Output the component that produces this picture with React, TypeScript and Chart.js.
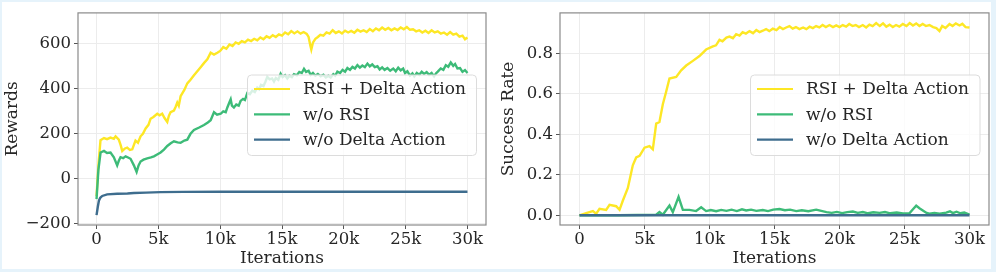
import React, { useEffect, useRef } from "react";
import { Chart, registerables } from "chart.js";

Chart.register(...registerables);

// ---------------- DATA ----------------
const seriesNames = ["RSI + Delta Action", "w/o RSI", "w/o Delta Action"];
const seriesColors = ["#fde725", "#3dbb78", "#3e6d8e"];

const xTicks = [0, 5000, 10000, 15000, 20000, 25000, 30000];
const rewardTicks = [-200, 0, 200, 400, 600];
const successTicks = [0, 0.2, 0.4, 0.6, 0.8];

const rewardFull: [number, number][] = [
  [0, -76], [150, 60], [320, 172], [600, 181], [850, 176], [1130, 183], [1400, 178], [1540, 189],
  [1800, 174], [1950, 150], [2080, 124], [2300, 135], [2480, 139], [2700, 128], [2890, 131],
  [3150, 170], [3350, 160], [3560, 189], [3750, 200], [3970, 224], [4200, 240], [4370, 267],
  [4600, 275], [4910, 289], [5100, 282], [5310, 289], [5500, 270], [5720, 253], [5850, 280],
  [5990, 296], [6260, 303], [6400, 320], [6530, 339], [6650, 325], [6800, 367], [7100, 395],
  [7340, 424], [7600, 440], [7880, 460], [8150, 478], [8420, 496], [8700, 515], [8960, 531],
  [9230, 560], [9500, 552], [9770, 560],
  [10000, 568], [10250, 585], [10500, 578], [10750, 597], [11000, 590], [11250, 606], [11500, 600],
  [11750, 612], [12000, 606], [12250, 618], [12500, 612], [12750, 622], [13000, 615], [13250, 628],
  [13500, 620], [13750, 633], [14000, 626], [14250, 638], [14500, 630], [14750, 642], [15000, 636],
  [15250, 650], [15500, 642], [15750, 656], [16000, 646], [16250, 655], [16500, 645], [16750, 652],
  [17000, 644], [17150, 630], [17300, 590], [17370, 574], [17500, 605], [17700, 622], [17900, 630],
  [18100, 640], [18350, 636], [18600, 650], [18850, 645], [19100, 660], [19350, 648], [19600, 655],
  [19850, 646], [20100, 658], [20350, 650], [20600, 657], [20850, 649], [21100, 662], [21350, 654],
  [21600, 660], [21850, 652], [22100, 665], [22350, 656], [22600, 668], [22850, 660], [23100, 672],
  [23350, 662], [23600, 670], [23850, 660], [24100, 668], [24350, 661], [24600, 672], [24850, 664],
  [25100, 674], [25350, 662], [25600, 664], [25850, 655], [26100, 660], [26350, 650], [26600, 658],
  [26850, 648], [27100, 660], [27350, 650], [27600, 655], [27850, 645], [28100, 650], [28350, 640],
  [28600, 652], [28850, 640], [29100, 645], [29350, 632], [29600, 636], [29800, 620], [30000, 628],
];

const rewardNoRSI: [number, number][] = [
  [0, -90], [150, 40], [324, 117], [600, 124], [850, 115], [1130, 117], [1400, 96], [1670, 60],
  [1800, 80], [1940, 96], [2150, 92], [2350, 100], [2550, 95], [2750, 89], [3020, 60], [3240, 31],
  [3400, 60], [3560, 77], [3800, 85], [4100, 91], [4400, 95], [4640, 100], [4900, 108], [5180, 117],
  [5450, 130], [5720, 146], [6000, 158], [6260, 167], [6550, 162], [6800, 160], [7100, 170],
  [7340, 174], [7600, 200], [7880, 217], [8300, 228], [8690, 239], [9000, 250], [9230, 260],
  [9500, 296], [9750, 285],
  [10040, 289], [10250, 300], [10450, 296], [10580, 317], [10750, 340], [10850, 353], [10950, 325],
  [11110, 317], [11300, 330], [11500, 325], [11650, 346], [11850, 355], [12000, 350], [12190, 381],
  [12400, 376], [12600, 392], [12800, 385], [13000, 405], [13150, 398], [13300, 417], [13500, 412],
  [13650, 430], [13810, 453], [14000, 442], [14200, 446], [14350, 432], [14500, 448], [14700, 440],
  [14890, 467], [15050, 452], [15250, 460], [15430, 446], [15600, 458], [15800, 452], [15970, 465],
  [16200, 460], [16400, 475], [16600, 470], [16780, 489], [16950, 475], [17150, 480], [17320, 462],
  [17500, 470], [17700, 458], [17900, 466], [18130, 455], [18350, 462], [18550, 450], [18750, 458],
  [18940, 450], [19150, 465], [19300, 458], [19480, 476], [19700, 470], [19900, 484], [20100, 476],
  [20290, 492], [20500, 484], [20700, 497], [20900, 490], [21100, 505], [21300, 494], [21500, 503],
  [21700, 496], [21910, 512], [22100, 500], [22300, 508], [22500, 496], [22720, 500], [22900, 486],
  [23100, 495], [23300, 484], [23530, 492], [23750, 480], [24000, 490], [24200, 478], [24400, 494],
  [24600, 482], [24800, 490], [24950, 470], [25140, 478], [25350, 458], [25550, 468], [25700, 455],
  [25900, 470], [26100, 462], [26300, 476], [26490, 466], [26700, 474], [26900, 462], [27100, 470],
  [27300, 455], [27450, 468], [27600, 476], [27840, 490], [28050, 484], [28250, 505], [28450, 498],
  [28650, 517], [28850, 502], [29000, 510], [29190, 490], [29400, 492], [29600, 475], [29800, 483],
  [30000, 470],
];

const rewardNoDelta: [number, number][] = [
  [0, -161], [100, -125], [190, -97], [300, -84], [460, -76], [860, -69], [1670, -66], [2500, -65],
  [3020, -63], [4000, -61], [5180, -59], [7000, -58], [10000, -57], [15000, -57], [20000, -57],
  [25000, -57], [30000, -57],
];

const successFull: [number, number][] = [
  [0, 0], [510, 0.011], [1030, 0.021], [1280, 0.008], [1540, 0.032], [2050, 0.027], [2310, 0.052],
  [2820, 0.045], [3080, 0.027], [3330, 0.072], [3720, 0.135], [4100, 0.247], [4360, 0.286],
  [4620, 0.294], [5000, 0.334], [5380, 0.342], [5640, 0.326], [5900, 0.453], [6150, 0.461],
  [6410, 0.549], [6670, 0.612], [6920, 0.676], [7440, 0.684], [7820, 0.716], [8210, 0.74],
  [8720, 0.763], [9230, 0.787], [9740, 0.819],
  [10260, 0.835], [10500, 0.84], [10770, 0.867], [11000, 0.86], [11300, 0.878], [11540, 0.883],
  [11800, 0.875], [12050, 0.895], [12310, 0.888], [12550, 0.905], [12800, 0.898], [13080, 0.91],
  [13350, 0.9], [13600, 0.915], [13850, 0.905], [14100, 0.912], [14350, 0.92], [14600, 0.91],
  [14870, 0.922], [15150, 0.915], [15400, 0.93], [15650, 0.92], [15900, 0.928], [16150, 0.935],
  [16400, 0.922], [16650, 0.93], [16920, 0.92], [17200, 0.928], [17450, 0.92], [17700, 0.932],
  [17950, 0.925], [18200, 0.935], [18450, 0.928], [18700, 0.94], [18950, 0.93], [19230, 0.94],
  [19500, 0.93], [19750, 0.938], [20000, 0.93], [20250, 0.94], [20510, 0.932], [20750, 0.945],
  [21000, 0.935], [21250, 0.94], [21500, 0.93], [21790, 0.94], [22050, 0.928], [22300, 0.942],
  [22550, 0.935], [22820, 0.95], [23100, 0.935], [23350, 0.948], [23600, 0.932], [23850, 0.942],
  [24100, 0.93], [24350, 0.94], [24600, 0.932], [24870, 0.945], [25150, 0.935], [25400, 0.95],
  [25650, 0.938], [25900, 0.948], [26150, 0.935], [26400, 0.945], [26650, 0.935], [26920, 0.94],
  [27200, 0.93], [27450, 0.925], [27690, 0.91], [27900, 0.935], [28150, 0.925], [28460, 0.945],
  [28700, 0.935], [28950, 0.948], [29230, 0.938], [29450, 0.946], [29700, 0.93], [30000, 0.928],
];

const successNoRSI: [number, number][] = [
  [0, 0], [3000, 0], [5900, 0.003], [6150, 0.016], [6410, 0.003], [6920, 0.048], [7180, 0.016],
  [7620, 0.091], [7950, 0.027], [8460, 0.027], [8970, 0.021], [9360, 0.04],
  [9740, 0.021], [10100, 0.026], [10510, 0.02], [10900, 0.027], [11300, 0.022], [11700, 0.028],
  [12100, 0.021], [12500, 0.03], [12820, 0.024], [13200, 0.028], [13600, 0.022], [14100, 0.026],
  [14500, 0.021], [14900, 0.028], [15380, 0.031], [15800, 0.025], [16200, 0.028], [16670, 0.021],
  [17100, 0.025], [17600, 0.02], [18210, 0.028], [18600, 0.022], [19000, 0.016], [19400, 0.012],
  [19800, 0.017], [20200, 0.011], [20600, 0.016], [21030, 0.019], [21400, 0.012], [21800, 0.016],
  [22200, 0.01], [22600, 0.015], [23080, 0.012], [23500, 0.016], [23900, 0.01], [24400, 0.014],
  [24870, 0.009], [25380, 0.01], [25650, 0.03], [25900, 0.048], [26150, 0.035], [26410, 0.024],
  [26700, 0.012], [26920, 0.008], [27300, 0.012], [27700, 0.008], [28210, 0.013], [28500, 0.02],
  [28720, 0.011], [29000, 0.018], [29300, 0.01], [29600, 0.014], [30000, 0.004],
];

const successNoDelta: [number, number][] = [
  [0, 0], [10000, 0], [20000, 0], [30000, 0],
];

// ---------------- RENDERING ----------------
const FONT = "'DejaVu Serif', serif";
const TEXT = "#262626";

type PanelCfg = {
  width: number;
  height: number;
  yWidth: number;
  padRight: number;
  yMin: number;
  yMax: number;
  yTicks: number[];
  yLabel: (v: number) => string;
  yTitle: string;
  series: [number, number][][];
  legend: { x: number; y: number; w: number; h: number };
};

function makeChart(canvas: HTMLCanvasElement, cfg: PanelCfg) {
  const legendPlugin = {
    id: "frameLegend",
    afterDatasetsDraw(chart: any) {
      const ctx = chart.ctx as CanvasRenderingContext2D;
      const a = chart.chartArea;
      ctx.save();
      ctx.strokeStyle = "#8a8a8a";
      ctx.lineWidth = 1.2;
      ctx.strokeRect(a.left, a.top, a.right - a.left, a.bottom - a.top);
      const L = cfg.legend;
      const r = 4;
      ctx.beginPath();
      ctx.moveTo(L.x + r, L.y);
      ctx.arcTo(L.x + L.w, L.y, L.x + L.w, L.y + L.h, r);
      ctx.arcTo(L.x + L.w, L.y + L.h, L.x, L.y + L.h, r);
      ctx.arcTo(L.x, L.y + L.h, L.x, L.y, r);
      ctx.arcTo(L.x, L.y, L.x + L.w, L.y, r);
      ctx.closePath();
      ctx.fillStyle = "rgba(255,255,255,0.8)";
      ctx.fill();
      ctx.strokeStyle = "#dcdcdc";
      ctx.lineWidth = 1;
      ctx.stroke();
      ctx.font = `17px ${FONT}`;
      ctx.textBaseline = "middle";
      ctx.textAlign = "left";
      seriesNames.forEach((name, i) => {
        const yy = L.y + 14 + i * 25.3;
        ctx.strokeStyle = seriesColors[i];
        ctx.lineWidth = 2.2;
        ctx.beginPath();
        ctx.moveTo(L.x + 6.5, yy);
        ctx.lineTo(L.x + 42.5, yy);
        ctx.stroke();
        ctx.fillStyle = TEXT;
        ctx.fillText(name, L.x + 55.5, yy + 1);
      });
      ctx.restore();
    },
  };

  return new Chart(canvas, {
    type: "line",
    data: {
      datasets: cfg.series.map((pts, i) => ({
        label: seriesNames[i],
        data: pts.map(([x, y]) => ({ x, y })),
        borderColor: seriesColors[i],
        backgroundColor: seriesColors[i],
        borderWidth: 2.4,
        pointRadius: 0,
        tension: 0,
        order: 2 - i,
      })),
    },
    options: {
      responsive: false,
      animation: false,
      devicePixelRatio: 1,
      layout: { padding: { left: 0, top: 5, right: cfg.padRight, bottom: 0 } },
      plugins: { legend: { display: false }, tooltip: { enabled: false } },
      scales: {
        x: {
          type: "linear",
          min: -1500,
          max: 31500,
          afterBuildTicks: (s: any) => {
            s.ticks = xTicks.map((v) => ({ value: v }));
          },
          afterFit: (s: any) => {
            s.height = 47;
          },
          ticks: {
            callback: (v: any) => (v === 0 ? "0" : `${v / 1000}k`),
            font: { family: FONT, size: 16.5 },
            color: TEXT,
            padding: 1,
            maxRotation: 0,
          },
          grid: { color: "#ececec", tickColor: "#555", tickLength: 4, lineWidth: 1 },
          border: { display: false },
          title: {
            display: true,
            text: "Iterations",
            font: { family: FONT, size: 17 },
            color: TEXT,
            padding: { top: 0, bottom: 3 },
          },
        },
        y: {
          type: "linear",
          min: cfg.yMin,
          max: cfg.yMax,
          afterBuildTicks: (s: any) => {
            s.ticks = cfg.yTicks.map((v) => ({ value: v }));
          },
          afterFit: (s: any) => {
            s.width = cfg.yWidth;
          },
          ticks: {
            callback: (v: any) => cfg.yLabel(Number(v)),
            font: { family: FONT, size: 16.5 },
            color: TEXT,
            padding: 3,
          },
          grid: { color: "#ececec", tickColor: "#555", tickLength: 4, lineWidth: 1 },
          border: { display: false },
          title: {
            display: true,
            text: cfg.yTitle,
            font: { family: FONT, size: 17 },
            color: TEXT,
            padding: { top: 2, bottom: 0 },
          },
        },
      },
    },
    plugins: [legendPlugin],
  } as any);
}

function Panel({ left, cfg }: { left: number; cfg: PanelCfg }) {
  const ref = useRef<HTMLCanvasElement>(null);
  useEffect(() => {
    const chart = makeChart(ref.current!, cfg);
    return () => chart.destroy();
  }, []);
  return (
    <canvas
      ref={ref}
      width={cfg.width}
      height={cfg.height}
      style={{ position: "absolute", left, top: 0, width: cfg.width, height: cfg.height }}
    />
  );
}

const minus = (v: number) => (v < 0 ? `\u2212${Math.abs(v)}` : `${v}`);

const leftCfg: PanelCfg = {
  width: 496,
  height: 272,
  yWidth: 78,
  padRight: 10,
  yMin: -205,
  yMax: 737,
  yTicks: rewardTicks,
  yLabel: minus,
  yTitle: "Rewards",
  series: [rewardFull, rewardNoRSI, rewardNoDelta],
  legend: { x: 247.5, y: 75, w: 229, h: 80.5 },
};

const rightCfg: PanelCfg = {
  width: 500,
  height: 272,
  yWidth: 64,
  padRight: 7,
  yMin: -0.0478,
  yMax: 1.0,
  yTicks: successTicks,
  yLabel: (v) => v.toFixed(1),
  yTitle: "Success Rate",
  series: [successFull, successNoRSI, successNoDelta],
  legend: { x: 254.5, y: 75, w: 229.5, h: 80.5 },
};

export default function App() {
  useEffect(() => {
    document.body.style.margin = "0";
  }, []);
  return (
    <div style={{ position: "relative", width: 996, height: 272, background: "#e6f3fb", overflow: "hidden" }}>
      <div style={{ position: "absolute", left: 2, top: 2, width: 989, height: 267, background: "#ffffff" }} />
      <Panel left={0} cfg={leftCfg} />
      <Panel left={496} cfg={rightCfg} />
    </div>
  );
}
